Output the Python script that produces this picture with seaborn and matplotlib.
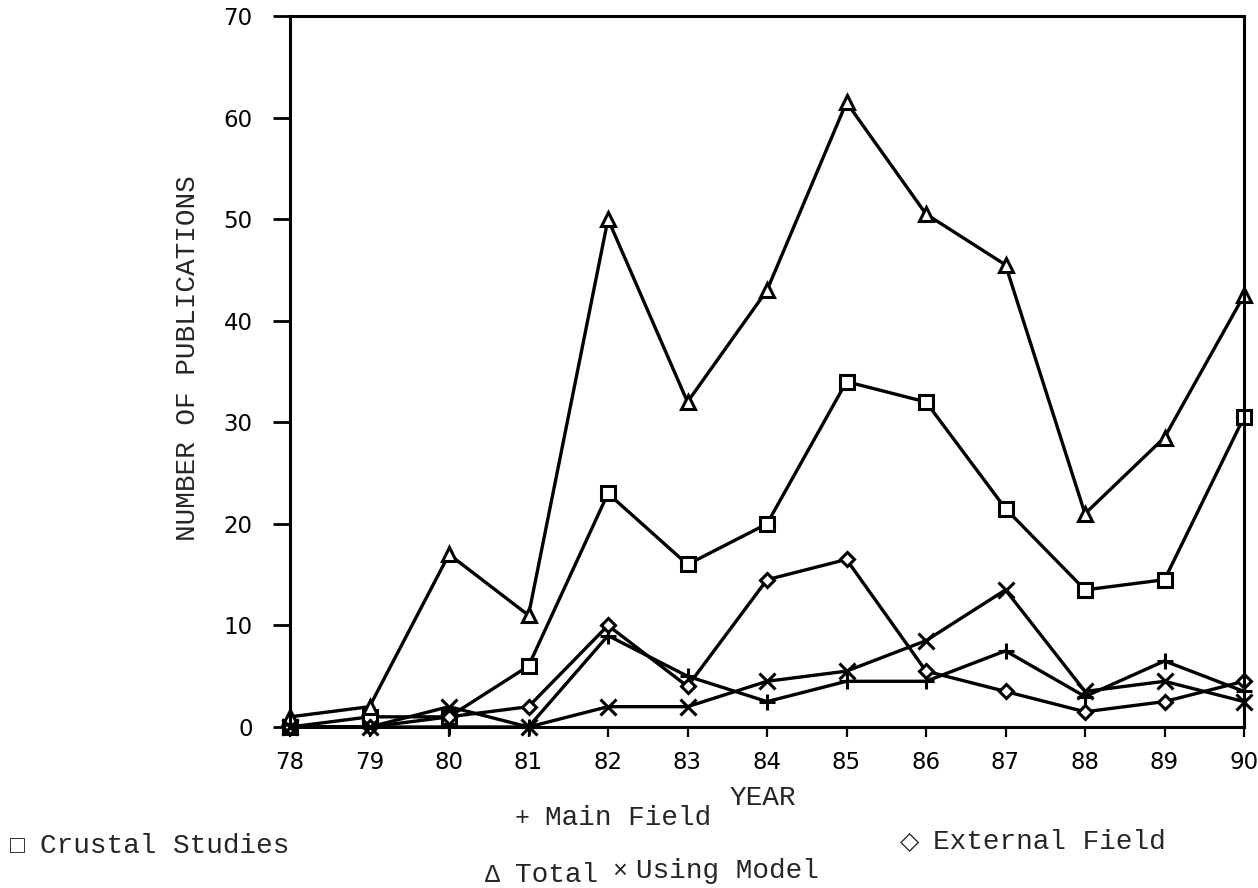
import matplotlib
matplotlib.use("Agg")
import matplotlib.pyplot as plt
import seaborn as sns

# Données
years = [78, 79, 80, 81, 82, 83, 84, 85, 86, 87, 88, 89, 90]
crustal = [0, 1, 1, 6, 23, 16, 20, 34, 32, 21.5, 13.5, 14.5, 30.5]
main_field = [0, 0, 0, 0, 9, 5, 2.5, 4.5, 4.5, 7.5, 3, 6.5, 3.5]
external = [0, 0, 1, 2, 10, 4, 14.5, 16.5, 5.5, 3.5, 1.5, 2.5, 4.5]
total = [1, 2, 17, 11, 50, 32, 43, 61.5, 50.5, 45.5, 21, 28.5, 42.5]
using_model = [0, 0, 2, 0, 2, 2, 4.5, 5.5, 8.5, 13.5, 3.5, 4.5, 2.5]

sns.set_style("ticks")
plt.rcParams['font.family'] = ['DejaVu Sans']
mono = ['Liberation Mono', 'DejaVu Sans']

fig = plt.figure(figsize=(12.58, 8.88), dpi=100)
ax = fig.add_axes([290 / 1258, 1 - 727 / 888, (1244 - 290) / 1258, (727 - 16) / 888])

# (valeurs, marqueur, taille)
series = [
    (crustal, 's', 10),
    (main_field, '+', 12),
    (external, 'D', 7),
    (total, '^', 10),
    (using_model, 'x', 11),
]
for vals, mk, ms in series:
    sns.lineplot(x=years, y=vals, ax=ax, color='black', linewidth=2.4,
                 marker=mk, markersize=ms, markerfacecolor='white',
                 markeredgecolor='black', markeredgewidth=2.2, clip_on=False)

ax.set_xlim(78, 90)
ax.set_ylim(0, 70)
ax.set_xticks(years)
ax.set_yticks(range(0, 71, 10))
ax.set_xlabel('')
ax.set_ylabel('')
ax.tick_params(axis='y', length=12, width=2, pad=15, labelsize=16.5, colors='black')
ax.tick_params(axis='x', length=7, width=1.6, pad=10, labelsize=16.5, colors='black')
for sp in ax.spines.values():
    sp.set_linewidth(2.2)
    sp.set_color('black')

# Titres des axes
fig.text(188 / 1258, 1 - 358 / 888, 'NUMBER OF PUBLICATIONS', rotation=90,
         ha='center', va='center', fontsize=20, family=mono)
fig.text(763 / 1258, 1 - 798 / 888, 'YEAR', ha='center', va='center',
         fontsize=20, family=mono)

# Légende disposée comme sur l'original : (symbole, x symbole, texte, x texte, y)
legend_items = [
    ('\u25a1', 17, 'Crustal Studies', 40, 846),
    ('+', 522, 'Main Field', 545, 818),
    ('\u25c7', 910, 'External Field', 933, 842),
    ('\u0394', 492, 'Total', 515, 875),
    ('\u00d7', 620, 'Using Model', 636, 871),
]
for sym, xs, txt, xt, y in legend_items:
    fig.text(xs / 1258, 1 - y / 888, sym, ha='center', va='center',
             fontsize=18, family=mono)
    fig.text(xt / 1258, 1 - y / 888, txt, ha='left', va='center',
             fontsize=20, family=mono)

fig.savefig('out.png', dpi=100, facecolor='white')
